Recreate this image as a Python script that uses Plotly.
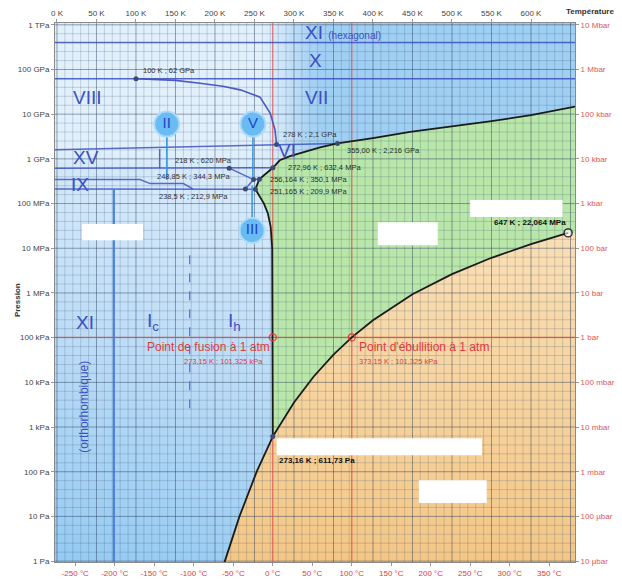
import numpy as np
import plotly.graph_objects as go

FONT = "Liberation Sans, Arial, sans-serif"
T_LO, T_HI = -2.5, 655.7          # temperature window (K)
LP_LO, LP_HI = -0.02, 12.04       # log10 of pressure window (Pa)
P_BOTTOM, P_TOP = 0.8, 2e12
T_RIGHT = 700

# ---- liquid / vapour / ice Ih boundaries (T in K, P in Pa) ----
subl_T = [210.9, 212.5, 231.0, 252.8, 273.16]
subl_P = [0.8, 1.0, 10.0, 100.0, 611.73]

vap_T = [273.16, 300, 325, 350, 373.15, 400, 450, 500, 550, 600, 647]
vap_P = [611.73, 3.54e3, 13.5e3, 41.7e3, 101.325e3, 245.8e3, 932e3,
         2.64e6, 6.12e6, 12.34e6, 22.064e6]

fus_T = [273.16, 273.15, 273.0, 272.4, 270.5, 267.0, 262.0, 256.0, 251.165]
fus_P = [611.73, 101.325e3, 2e6, 1e7, 3e7, 6e7, 1e8, 1.5e8, 2.099e8]

# high-pressure melting: III, V, VI and VII against the liquid
hpm_T = [251.165, 253.5, 256.164, 262, 268, 273.31, 282, 295, 308, 333,
         355, 400, 447, 500, 550, 600, 656]
hpm_P = [2.099e8, 2.8e8, 3.501e8, 4.3e8, 5.2e8, 6.324e8, 9.3e8, 1.15e9,
         1.35e9, 1.8e9, 2.216e9, 2.9e9, 4.0e9, 5.3e9, 7.0e9, 9.5e9, 1.48e10]

# VII / VIII boundary
v78_T = [100, 150, 181, 210, 232, 257, 270, 276, 278]
v78_P = [62e9, 57e9, 49e9, 42e9, 35e9, 24e9, 10.5e9, 4.4e9, 2.1e9]

# ---- solid / solid boundaries ----
hex_P = 4.0e11          # XI (hexagonal) / X
x_P = 62e9              # X / VII-VIII
b6_T = [T_LO, 278, 355]
b6_P = [1.6e9, 2.1e9, 2.216e9]
b620_T = [T_LO, 218, 273.31]
b620_P = [6.2e8, 6.2e8, 6.324e8]
b25_T = [218, 248.85]
b25_P = [6.2e8, 3.443e8]
b9_T = [T_LO, 105, 118, 160, 172]
b9_P = [3.443e8, 3.443e8, 2.8e8, 2.8e8, 2.129e8]
b213_T = [T_LO, 238.5, 251.165]
b213_P = [2.129e8, 2.129e8, 2.099e8]
b23_T = [238.5, 248.85, 256.164]
b23_P = [2.129e8, 3.443e8, 3.501e8]
b15_T = [130, 130]
b15_P = [6.2e8, 1.65e9]
b11_T = [72, 72]
b11_P = [2.129e8, 0.8]
bic_T = [168, 168]
bic_P = [7e6, 1.85e3]

# ---- remarkable points ----
dot_T = [100, 278, 355, 273.31, 256.164, 251.165, 218, 248.85, 238.5, 273.16]
dot_P = [62e9, 2.1e9, 2.216e9, 6.324e8, 3.501e8, 2.099e8, 6.2e8, 3.443e8, 2.129e8, 611.73]
atm_T = [273.15, 373.15]
atm_P = [101.325e3, 101.325e3]
crit_T, crit_P = 647, 22.064e6

# ---- phase names ----
phase_names = ["VIII", "VII", "X", "VI", "XV", "IX", "XI", "I<sub>c</sub>", "I<sub>h</sub>"]
phase_T = [38, 328, 326.6, 291, 36.7, 29, 35.4, 121.5, 225]
phase_P = [2.4e10, 2.4e10, 1.62e11, 1.55e9, 1.05e9, 2.7e8, 2.2e5, 2.2e5, 2.2e5]

bubble_names = ["II", "V", "III"]
bubble_T = [139, 248, 247]
bubble_P = [6.0e9, 6.0e9, 2.5e7]
stem_end_P = [3.4e8, 3.2e8, 2.5e8]

# ---- axis labels ----
celsius_ticks = list(range(-250, 351, 50))
kelvin_ticks = list(range(0, 601, 50))
pa_labels = ["1 Pa", "10 Pa", "100 Pa", "1 kPa", "10 kPa", "100 kPa", "1 MPa",
             "10 MPa", "100 MPa", "1 GPa", "10 GPa", "100 GPa", "1 TPa"]
bar_labels = ["10 µbar", "100 µbar", "1 mbar", "10 mbar", "100 mbar", "1 bar",
              "10 bar", "100 bar", "1 kbar", "10 kbar", "100 kbar", "1 Mbar", "10 Mbar"]
decades = list(range(0, 13))

BLUE_LINE = "rgba(62,84,196,0.85)"
RED = "#e3393e"
RED_LINE = "rgba(226,72,72,0.8)"

fig = go.Figure()

# ice background: pale at high pressure, deeper blue toward low pressure and high T
hx = np.linspace(-6, 662, 168)
hlp = np.linspace(-0.1, 12.15, 124)
X, LP = np.meshgrid(hx, hlp)


def smooth(t):
    t = np.clip(t, 0, 1)
    return t * t * (3 - 2 * t)


low = np.clip(0.18 + 0.64 * (8.3 - LP) / 8.3, 0.18, 0.82) + 0.08 * (1 - np.clip(X / 270, 0, 1))
high = 0.06 + 0.74 * smooth((X - 250) / 90)
w = smooth((LP - 8.7) / 0.6)
Z = low * (1 - w) + high * w
fig.add_trace(go.Heatmap(
    x=hx, y=10 ** hlp, z=Z, zmin=0, zmax=1, showscale=False, zsmooth="best",
    colorscale=[[0, "#e7f3fd"], [0.5, "#bddcf6"], [1, "#8bc6f1"]],
    hoverinfo="skip"))

# liquid
liq_T = fus_T + hpm_T[1:] + [T_RIGHT, T_RIGHT, crit_T] + vap_T[::-1]
liq_P = fus_P + hpm_P[1:] + [hpm_P[-1], crit_P, crit_P] + vap_P[::-1]
fig.add_trace(go.Scatter(x=liq_T, y=liq_P, fill="toself", fillcolor="#b9e6a9",
                         line=dict(width=0), mode="lines", hoverinfo="skip"))

# vapour
gas_T = subl_T + vap_T[1:] + [T_RIGHT, T_RIGHT, subl_T[0]]
gas_P = subl_P + vap_P[1:] + [crit_P, P_BOTTOM, P_BOTTOM]
fig.add_trace(go.Scatter(x=gas_T, y=gas_P, fill="toself",
                         fillgradient=dict(type="vertical",
                                           colorscale=[[0, "#f4c684"], [1, "#fadfb5"]]),
                         line=dict(width=0), mode="lines", hoverinfo="skip"))

# grid drawn over the coloured areas
def grid_trace(xs, ys, color):
    fig.add_trace(go.Scatter(x=xs, y=ys, mode="lines", line=dict(color=color, width=1),
                             hoverinfo="skip"))


mx, my, Mx, My = [], [], [], []
for t in range(0, 660, 10):
    tx, ty = (Mx, My) if t % 50 == 0 else (mx, my)
    tx += [t, t, None]
    ty += [P_BOTTOM, P_TOP, None]
for k in range(0, 13):
    for j in range(0, 5):
        if k == 12 and j > 0:
            continue
        p = 10 ** (k + 0.2 * j)
        tx, ty = (Mx, My) if j == 0 else (mx, my)
        tx += [T_LO - 5, T_RIGHT, None]
        ty += [p, p, None]
grid_trace(mx, my, "rgba(70,95,125,0.24)")
grid_trace(Mx, My, "rgba(45,65,95,0.48)")

# reference lines at 1 atm, 0 °C and 100 °C
fig.add_trace(go.Scatter(
    x=[273.15, 273.15, None, 373.15, 373.15, None, T_LO - 5, T_RIGHT],
    y=[P_BOTTOM, P_TOP, None, P_BOTTOM, P_TOP, None, 101.325e3, 101.325e3],
    mode="lines", line=dict(color=RED_LINE, width=1.2), hoverinfo="skip"))


def line(xs, ys, color=BLUE_LINE, width=1.5, dash=None):
    fig.add_trace(go.Scatter(x=xs, y=ys, mode="lines",
                             line=dict(color=color, width=width, dash=dash),
                             hoverinfo="skip"))


# solid / solid boundaries
line([T_LO - 5, T_RIGHT], [hex_P, hex_P])
line([T_LO - 5, T_RIGHT], [x_P, x_P])
line(b6_T, b6_P)
line(b620_T, b620_P)
line(b25_T, b25_P)
line(b9_T, b9_P)
line(b213_T, b213_P)
line(b23_T, b23_P)
line(b15_T, b15_P)
line(b11_T, b11_P, color="rgba(70,125,225,0.95)", width=2.2)
line(bic_T, bic_P, color="rgba(70,110,210,0.9)", width=1.3, dash="dash")
line(v78_T, v78_P, color="rgba(70,80,190,0.95)", width=1.6)

# liquid / vapour / ice curves
CURVE = "#1b1b1b"
line(subl_T, subl_P, color=CURVE, width=1.8)
line(vap_T, vap_P, color=CURVE, width=1.8)
line(fus_T, fus_P, color=CURVE, width=1.8)
line(hpm_T, hpm_P, color=CURVE, width=1.8)

# phase bubbles with their stems
for T, P, Pe in zip(bubble_T, bubble_P, stem_end_P):
    line([T, T], [P, Pe], color="rgba(50,150,230,0.95)", width=1.6)
fig.add_trace(go.Scatter(
    x=bubble_T, y=bubble_P, mode="markers+text", text=bubble_names,
    textposition="middle center",
    textfont=dict(size=15, color="#2443c6", family=FONT),
    marker=dict(size=25, color="#68bcf3", line=dict(color="rgba(175,218,250,0.95)", width=2)),
    hoverinfo="skip"))

# remarkable points
fig.add_trace(go.Scatter(x=dot_T, y=dot_P, mode="markers",
                         marker=dict(size=5, color="#3c4a78"), hoverinfo="skip"))
fig.add_trace(go.Scatter(x=atm_T, y=atm_P, mode="markers",
                         marker=dict(size=7, color="rgba(0,0,0,0)", line=dict(color=RED, width=1.3)),
                         hoverinfo="skip"))
fig.add_trace(go.Scatter(x=[crit_T], y=[crit_P], mode="markers",
                         marker=dict(size=8, color="rgba(255,255,255,0.6)", line=dict(color=CURVE, width=1.3)),
                         hoverinfo="skip"))

# secondary axes carrier (K on top, bar on the right)
fig.add_trace(go.Scatter(x=atm_T, y=atm_P, xaxis="x2", yaxis="y2", mode="markers",
                         marker=dict(opacity=0), hoverinfo="skip"))

# blank label boxes
blank_T0 = [31.6, 406, 523, 278, 458]
blank_T1 = [108.9, 482, 640, 538, 544]
blank_P0 = [10 ** 7.18, 10 ** 7.07, 10 ** 7.70, 10 ** 2.37, 10 ** 1.30]
blank_P1 = [10 ** 7.54, 10 ** 7.58, 10 ** 8.08, 10 ** 2.75, 10 ** 1.81]
for a, b, c, d in zip(blank_T0, blank_T1, blank_P0, blank_P1):
    fig.add_shape(type="rect", xref="x", yref="y", x0=a, x1=b, y0=c, y1=d,
                  fillcolor="white", line=dict(width=0), layer="above")


def note(T, P, text, size=8, color="#333333", xanchor="left", bold=False, angle=0):
    fig.add_annotation(x=T, y=np.log10(P), xref="x", yref="y",
                       text=f"<b>{text}</b>" if bold else text, showarrow=False,
                       xanchor=xanchor, yanchor="middle", textangle=angle,
                       font=dict(size=size, color=color, family=FONT))


PHASE_BLUE = "#3b4fc6"
for name, T, P in zip(phase_names, phase_T, phase_P):
    note(T, P, name, size=19, color=PHASE_BLUE, xanchor="center")
note(311, 10 ** 11.82, "XI <span style='font-size:10px'>(hexagonal)</span>", size=19,
     color=PHASE_BLUE)
note(34, 10 ** 3.45, "(orthorhombique)", size=12, color=PHASE_BLUE, xanchor="center", angle=-90)

note(106.3, 9.6e10, "100 K ; 62 GPa", size=7.5)
note(283.5, 3.56e9, "278 K ; 2,1 GPa", size=7.5)
note(364.6, 1.56e9, "355,00 K ; 2,216 GPa", size=7.5, color="#223322")
note(290, 6.5e8, "272,96 K ; 632,4 MPa", size=7.5, color="#223322")
note(267, 3.5e8, "256,164 K ; 350,1 MPa", size=7.5, color="#223322")
note(267, 1.9e8, "251,165 K ; 209,9 MPa", size=7.5, color="#223322")
note(147, 9.3e8, "218 K ; 620 MPa", size=7.5)
note(124, 4.1e8, "248,85 K ; 344,3 MPa", size=7.5)
note(126.6, 1.47e8, "238,5 K ; 212,9 MPa", size=7.5)
note(278.5, 174, "273,16 K ; 611,73 Pa", size=8, color="#111111", bold=True)
note(647, 3.8e7, "647 K ; 22,064 MPa", size=8, color="#111111", xanchor="right", bold=True)
note(272, 6.2e4, "Point de fusion à 1 atm", size=12, color=RED, xanchor="right")
note(263, 3.0e4, "273,15 K ; 101,325 kPa", size=7.5, color=RED, xanchor="right")
note(380, 6.2e4, "Point d'ébullition à 1 atm", size=12, color=RED)
note(380, 3.0e4, "373,15 K ; 101,325 kPa", size=7.5, color=RED)

fig.add_annotation(xref="paper", yref="paper", x=1.029, y=1.022, text="<b>Température</b>",
                   showarrow=False, xanchor="center", yanchor="middle",
                   font=dict(size=8, color="#333333", family=FONT))
fig.add_annotation(xref="paper", yref="paper", x=-0.073, y=0.486, text="<b>Pression</b>",
                   showarrow=False, textangle=-90, xanchor="center", yanchor="middle",
                   font=dict(size=8, color="#333333", family=FONT))

axis_common = dict(showgrid=False, zeroline=False, ticks="outside", ticklen=3,
                   tickcolor="#999999", autorange=False, automargin=False)
fig.update_layout(
    width=622, height=580,
    margin=dict(l=55, r=47, t=23, b=18),
    paper_bgcolor="white", plot_bgcolor="white",
    showlegend=False,
    font=dict(family=FONT),
    xaxis=dict(range=[T_LO, T_HI], tickvals=[c + 273.15 for c in celsius_ticks],
               ticktext=[f"{c} °C" for c in celsius_ticks],
               tickfont=dict(size=8, color=RED), showline=True, linecolor="#8a8a8a",
               mirror=True, **axis_common),
    xaxis2=dict(range=[T_LO, T_HI], overlaying="x", side="top", tickvals=kelvin_ticks,
                ticktext=[f"{k} K" for k in kelvin_ticks],
                tickfont=dict(size=8, color="#444444"), **axis_common),
    yaxis=dict(type="log", range=[LP_LO, LP_HI], tickvals=[10 ** k for k in decades],
               ticktext=pa_labels, tickfont=dict(size=8, color="#444444"),
               showline=True, linecolor="#8a8a8a", mirror=True, **axis_common),
    yaxis2=dict(type="log", range=[LP_LO, LP_HI], overlaying="y", side="right",
                tickvals=[10 ** k for k in decades], ticktext=bar_labels,
                tickfont=dict(size=8, color="#e0555a"), **axis_common),
)

fig.write_html("out.html")
